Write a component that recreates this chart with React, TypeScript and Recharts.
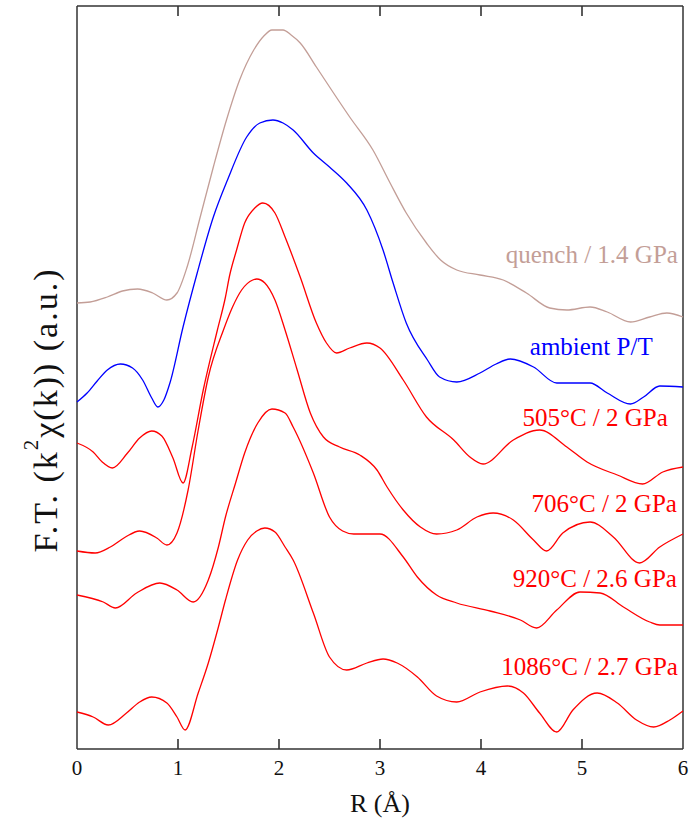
import {
    LineChart,
    Line,
    XAxis,
    YAxis,
    CartesianGrid,
    ReferenceDot,
    Customized,
    Label,
} from "recharts"

// R (Å) ticks
const R_TICKS = [0, 1, 2, 3, 4, 5, 6]

// each spectrum: [R (Å), F.T. magnitude in a.u., stacked with its own offset]
const quench: [number, number][] = [
    [0, 446], [0.13, 447], [0.3, 452], [0.45, 458], [0.6, 460], [0.75, 456],
    [0.89, 449], [0.99, 456], [1.09, 482], [1.22, 532], [1.35, 582], [1.48, 629],
    [1.61, 669], [1.75, 699], [1.85, 713], [1.93, 719], [2.04, 719], [2.12, 714],
    [2.21, 706], [2.37, 682], [2.54, 656], [2.7, 632], [2.93, 599], [3.1, 566],
    [3.26, 536], [3.46, 506], [3.6, 489], [3.76, 479], [3.99, 474], [4.22, 469],
    [4.45, 456], [4.68, 441], [4.85, 439], [5.08, 442], [5.25, 437], [5.48, 427],
    [5.67, 432], [5.84, 436], [6, 432],
]

const ambient: [number, number][] = [
    [0, 347], [0.1, 356], [0.2, 368], [0.3, 379], [0.43, 385], [0.55, 381],
    [0.65, 369], [0.74, 351], [0.8, 342], [0.86, 349], [0.92, 366], [1.05, 422],
    [1.19, 476], [1.35, 532], [1.49, 569], [1.68, 612], [1.81, 626], [1.94, 629],
    [2.04, 626], [2.14, 619], [2.34, 596], [2.5, 582], [2.67, 566], [2.87, 539],
    [3.03, 499], [3.13, 466], [3.26, 426], [3.47, 389], [3.59, 372], [3.76, 367],
    [3.99, 376], [4.15, 385], [4.29, 390], [4.52, 382], [4.75, 366], [5.08, 366],
    [5.25, 356], [5.48, 345], [5.61, 352], [5.77, 363], [6, 362],
]

const t505: [number, number][] = [
    [0, 306], [0.16, 297], [0.25, 287], [0.35, 281], [0.5, 296], [0.62, 311],
    [0.74, 318], [0.84, 313], [0.95, 291], [1.05, 266], [1.14, 302], [1.25, 359],
    [1.39, 419], [1.47, 452], [1.51, 473], [1.58, 499], [1.66, 526], [1.76, 541],
    [1.84, 546], [1.96, 536], [2.06, 512], [2.21, 472], [2.37, 426], [2.47, 406],
    [2.57, 396], [2.7, 401], [2.87, 406], [3, 401], [3.23, 369], [3.46, 332],
    [3.73, 309], [3.89, 292], [4.02, 285], [4.32, 309], [4.58, 319], [4.85, 302],
    [5.05, 287], [5.35, 274], [5.6, 265], [5.8, 277], [6, 282],
]

const t706: [number, number][] = [
    [0, 198], [0.18, 196], [0.33, 202], [0.48, 212], [0.62, 218], [0.79, 211],
    [0.89, 204], [0.99, 216], [1.1, 259], [1.2, 319], [1.3, 372], [1.45, 419],
    [1.54, 442], [1.63, 459], [1.74, 469], [1.78, 470], [1.86, 466], [1.96, 449],
    [2.06, 419], [2.18, 379], [2.31, 336], [2.44, 312], [2.6, 302], [2.8, 294],
    [2.97, 279], [3.07, 262], [3.23, 239], [3.4, 222], [3.56, 215], [3.76, 219],
    [3.96, 232], [4.12, 236], [4.32, 229], [4.52, 209], [4.65, 198], [4.81, 216],
    [5.08, 227], [5.31, 212], [5.57, 186], [5.77, 202], [6, 215],
]

const t920: [number, number][] = [
    [0, 154], [0.26, 147], [0.38, 141], [0.59, 156], [0.82, 166], [0.99, 159],
    [1.15, 147], [1.3, 169], [1.4, 202], [1.47, 232], [1.57, 266], [1.66, 296],
    [1.79, 326], [1.93, 340], [2.06, 336], [2.14, 322], [2.34, 276], [2.5, 232],
    [2.63, 218], [2.74, 215], [3, 215], [3.23, 192], [3.37, 172], [3.56, 154],
    [3.76, 146], [4.09, 138], [4.39, 129], [4.55, 121], [4.75, 139], [4.98, 157],
    [5.18, 156], [5.41, 142], [5.67, 127], [5.77, 124], [6, 124],
]

const t1086: [number, number][] = [
    [0, 37], [0.16, 32], [0.31, 24], [0.49, 36], [0.62, 47], [0.74, 52],
    [0.89, 46], [0.99, 32], [1.07, 19], [1.2, 56], [1.3, 86], [1.4, 122],
    [1.47, 149], [1.59, 189], [1.69, 209], [1.78, 218], [1.86, 221], [1.96, 217],
    [2.06, 202], [2.14, 189], [2.34, 136], [2.5, 92], [2.67, 79], [2.87, 86],
    [3.03, 90], [3.17, 86], [3.37, 72], [3.56, 53], [3.76, 47], [3.99, 57],
    [4.26, 63], [4.42, 56], [4.58, 36], [4.75, 17], [4.91, 39], [5.15, 56],
    [5.35, 46], [5.54, 29], [5.71, 22], [5.87, 29], [6, 38],
]

const SERIES_NAMES = [
    "quench / 1.4 GPa",
    "ambient P/T",
    "505°C / 2 GPa",
    "706°C / 2 GPa",
    "920°C / 2.6 GPa",
    "1086°C / 2.7 GPa",
]

// where each name sits (right end of text, baseline), in R / a.u.
const LABEL_R = [5.95, 5.7, 5.85, 5.94, 5.94, 5.95]
const LABEL_FT = [486, 394, 323, 237, 162, 74]

const FT_MAX = 743
const MARGIN = { top: 6, right: 10, bottom: 3, left: 77 }
const TICK_LEN = 10

const BROWN = "#c39e97"
const BLUE = "#0000ff"
const RED = "#ff0000"
const AXIS = "#333333"
const FONT = "'Liberation Serif', 'Times New Roman', serif"

const toRows = (pts: [number, number][]) => pts.map(([r, ft]) => ({ r, ft }))

const series = [
    { name: SERIES_NAMES[0], data: toRows(quench), color: BROWN },
    { name: SERIES_NAMES[1], data: toRows(ambient), color: BLUE },
    { name: SERIES_NAMES[2], data: toRows(t505), color: RED },
    { name: SERIES_NAMES[3], data: toRows(t706), color: RED },
    { name: SERIES_NAMES[4], data: toRows(t920), color: RED },
    { name: SERIES_NAMES[5], data: toRows(t1086), color: RED },
]

const R_MIN = R_TICKS[0]
const R_MAX = R_TICKS[R_TICKS.length - 1]
const INNER_TICKS = R_TICKS.filter((t) => t > R_MIN && t < R_MAX)

const RTick = ({ x, y, payload }: any) => (
    <text x={x} y={y} dy={16} textAnchor="middle" fontSize={21} fontFamily={FONT} fill="#111">
        {payload.value}
    </text>
)

// short inward mark; dir = -1 goes up from the bottom edge, +1 down from the top
const tickMark = (dir: number) => (p: any) => (
    <path
        d={`M${p.cx},${p.cy}v${dir * TICK_LEN}`}
        stroke={AXIS}
        strokeWidth={1.6}
        fill="none"
    />
)

const YTitle = () => (
    <text
        x={57}
        y={410}
        transform="rotate(-90, 57, 410)"
        textAnchor="middle"
        fontSize={34}
        letterSpacing={2}
        fontFamily={FONT}
        fill="#111"
    >
        F.T. (k
        <tspan dy={-19} fontSize={21}>2</tspan>
        <tspan dy={19}>χ(k)) (a.u.)</tspan>
    </text>
)

export default function App() {
    return (
        <div style={{ position: "absolute", left: 0, top: 0, background: "#fff" }}>
            <LineChart width={693} height={822} margin={MARGIN}>
                {/* the frame round the plot */}
                <CartesianGrid
                    horizontalValues={[0, FT_MAX]}
                    verticalValues={[R_MIN, R_MAX]}
                    stroke={AXIS}
                    strokeWidth={1.5}
                    strokeOpacity={1}
                    fill="none"
                />
                <XAxis
                    dataKey="r"
                    type="number"
                    domain={[R_MIN, R_MAX]}
                    ticks={R_TICKS}
                    height={70}
                    axisLine={false}
                    tickLine={false}
                    tickSize={0}
                    tickMargin={10}
                    tick={RTick}
                    interval={0}
                >
                    <Label
                        value="R (Å)"
                        position="insideBottom"
                        offset={7}
                        fontSize={26}
                        fontFamily={FONT}
                        fill="#111"
                    />
                </XAxis>
                <YAxis type="number" domain={[0, FT_MAX]} hide />

                {series.map((s) => (
                    <Line
                        key={s.name}
                        data={s.data}
                        dataKey="ft"
                        type="monotone"
                        stroke={s.color}
                        strokeWidth={1.3}
                        dot={false}
                        activeDot={false}
                        isAnimationActive={false}
                    />
                ))}

                {INNER_TICKS.map((t) => (
                    <ReferenceDot
                        key={"tb" + t}
                        x={t}
                        y={0}
                        r={0}
                        ifOverflow="visible"
                        shape={tickMark(-1)}
                    />
                ))}
                {INNER_TICKS.map((t) => (
                    <ReferenceDot
                        key={"tt" + t}
                        x={t}
                        y={FT_MAX}
                        r={0}
                        ifOverflow="visible"
                        shape={tickMark(1)}
                    />
                ))}

                {series.map((s, i) => (
                    <ReferenceDot
                        key={"lbl" + i}
                        x={LABEL_R[i]}
                        y={LABEL_FT[i]}
                        r={0}
                        ifOverflow="visible"
                        shape={(p: any) => (
                            <text
                                x={p.cx}
                                y={p.cy}
                                textAnchor="end"
                                fontSize={25}
                                fontFamily={FONT}
                                fill={s.color}
                            >
                                {s.name}
                            </text>
                        )}
                    />
                ))}

                <Customized component={YTitle} />
            </LineChart>
        </div>
    )
}
